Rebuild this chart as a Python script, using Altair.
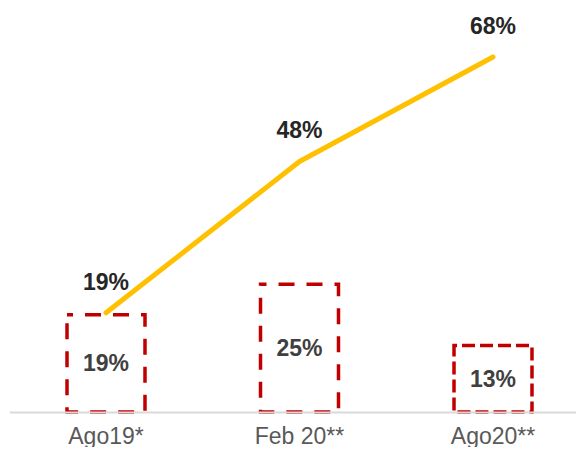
import altair as alt
import pandas as pd

categories = ["Ago19*", "Feb 20**", "Ago20**"]
bar_values = [19, 25, 13]
line_values = [19, 48, 68]

df = pd.DataFrame({
    "cat": categories,
    "bar": bar_values,
    "mid": [v / 2 for v in bar_values],
    "bar_label": [f"{v}%" for v in bar_values],
    "line": line_values,
    "line_label": [f"{v}%" for v in line_values],
})

FONT = "Liberation Sans"

x_enc = alt.X(
    "cat:N",
    sort=categories,
    scale=alt.Scale(range=[1.25, 581.75], paddingInner=0.597, paddingOuter=0.2985),
    axis=alt.Axis(
        title=None,
        ticks=False,
        domainColor="#D9D9D9",
        domainWidth=2,
        labelFont=FONT,
        labelFontSize=23,
        labelColor="#595959",
        labelPadding=13,
        labelAngle=0,
        zindex=1,
    ),
)

bar_scale = alt.Scale(domain=[0, 79])
line_scale = alt.Scale(domain=[0, 77.4])

base = alt.Chart(df)

bars = base.mark_bar(
    filled=False,
    stroke="#C00000",
    strokeWidth=3.5,
    strokeDashOffset=10,
).encode(
    x=x_enc,
    y=alt.Y("bar:Q", scale=bar_scale, axis=None),
    strokeDash=alt.StrokeDash(
        "cat:N",
        scale=alt.Scale(domain=categories, range=[[16, 12], [16, 12], [13, 5]]),
        legend=None,
    ),
)

bar_text = base.mark_text(
    font=FONT, fontSize=23, fontWeight="bold", color="#404040",
    baseline="middle", align="center", dy=1,
).encode(
    x=x_enc,
    y=alt.Y("mid:Q", scale=bar_scale, axis=None),
    text="bar_label:N",
)

line = base.mark_line(
    color="#FFC000", strokeWidth=5, strokeCap="round", strokeJoin="round",
).encode(
    x=x_enc,
    y=alt.Y("line:Q", scale=line_scale, axis=None),
)

line_text = base.mark_text(
    font=FONT, fontSize=23, fontWeight="bold", color="#262626",
    baseline="middle", align="center", dy=-30,
).encode(
    x=x_enc,
    y=alt.Y("line:Q", scale=line_scale, axis=None),
    text="line_label:N",
)

chart = alt.layer(
    alt.layer(bars, bar_text),
    alt.layer(line, line_text),
).resolve_scale(y="independent").properties(
    width=568,
    height=404,
    autosize=alt.AutoSizeParams(type="none"),
    padding={"left": 0, "top": 0, "right": 0, "bottom": 35},
).configure_view(stroke=None)

chart.save("out.html", embed_options={"renderer": "svg", "actions": False})
